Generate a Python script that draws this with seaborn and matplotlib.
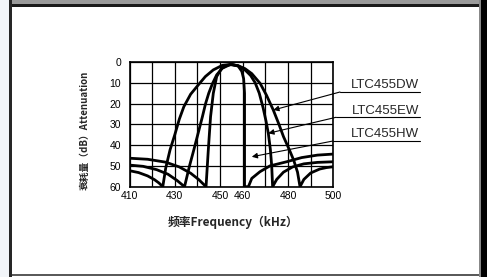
import pandas as pd
import matplotlib
matplotlib.use("Agg")
import matplotlib.pyplot as plt
import seaborn as sns
from matplotlib.patches import Rectangle
from matplotlib.lines import Line2D

# curve data (kHz, dB)
freq_dw = [410, 414, 418, 421, 423, 424.7, 426, 427.9, 430, 432, 434, 437, 440.4, 443.5, 447, 451, 454.5,
           458, 461, 464, 467.7, 470.5, 473.5, 476, 478, 480.5, 482.5, 484.2, 485.3,
           487, 490, 494, 497, 500]
att_dw = [52.3, 53.2, 54.8, 56.6, 58.2, 60, 51, 42.3, 35, 27.5, 21.5, 15.5, 11, 7, 3.8, 1.6, 1.2,
          1.8, 3.2, 5.6, 10.3, 16, 23.1, 30, 35.9, 42, 47.2, 53, 60,
          56.5, 53.4, 51.5, 50.8, 50.4]

freq_ew = [410, 416, 422, 427, 431, 434.3, 436.5, 438.4, 440.3, 442.2, 443.6, 445, 446.6, 448.5, 451, 454.5,
           458, 461, 463.5, 465.5, 467.3, 469, 470.3, 471.3, 472.2, 472.8, 473.2,
           475, 478, 482, 487, 493, 500]
att_ew = [49.6, 50.2, 51.8, 54, 57, 60, 50, 42.3, 34.3, 26.3, 20, 15, 10.5, 6.2, 3, 1.2,
          1.8, 3.8, 6.5, 10, 15, 22, 28.5, 34.3, 42, 50, 60,
          56.5, 53, 50.5, 49, 48.3, 48]

freq_hw = [410, 418, 426, 432, 437, 440.5, 443.8, 444.8, 445.8, 447, 448.5, 450.7, 453, 455.5,
           458, 459.6, 460.4, 460.8, 460.8, 462.5,
           464, 467.6, 472, 479.4, 486, 493, 500]
att_hw = [46.3, 46.8, 48.2, 50.5, 53.5, 56.5, 60, 42.3, 26.3, 15.1, 7, 3, 1.6, 1.2,
          2, 4.5, 8, 15, 60, 60,
          56, 52.8, 50, 48, 46, 44.8, 44.3]

series_names = ["LTC455DW", "LTC455EW", "LTC455HW"]
arrow_freq = [473.5, 471.3, 464.0]
arrow_att = [23.1, 34.3, 45.6]

x_grid = list(range(410, 501, 10))
x_labels = ["410", "", "430", "", "450", "460", "", "480", "", "500"]
y_grid = [0, 10, 20, 30, 40, 50, 60]

sns.set_style("white")
plt.rcParams['font.family'] = ['Liberation Sans', 'Noto Sans CJK SC', 'DejaVu Sans']

W, H = 487, 277
fig = plt.figure(figsize=(W / 100, H / 100), dpi=100)
fig.patch.set_facecolor("white")


def box(x, y, w, h, c):
    # rectangle given in image pixels (y from top)
    fig.add_artist(Rectangle((x / W, 1 - (y + h) / H), w / W, h / H,
                             transform=fig.transFigure, color=c, lw=0, zorder=0))


# page frame around the chart
box(0, 0, 10, H, "#f2f5f9")
box(9, 0, 3, H, "#262626")
box(12, 0, 468, 4.5, "#9a9a9a")
box(12, 4.5, 468, 2.5, "#1a1a1a")
box(12, 274, 468, 2, "#5a5a5a")
box(479, 0, 1.5, H, "#888888")
box(480.5, 0, 6.5, H, "#000000")

ax = fig.add_axes([129.5 / W, 1 - 186.7 / H, 203.8 / W, 124.7 / H])

for f, a in [(freq_dw, att_dw), (freq_ew, att_ew), (freq_hw, att_hw)]:
    sns.lineplot(x=f, y=a, sort=False, estimator=None, color="black", lw=2.0, ax=ax)

ax.set_xlim(410, 500)
ax.set_ylim(60, 0)
ax.set_xticks(x_grid)
ax.set_xticklabels(x_labels)
ax.set_yticks(y_grid)
ax.grid(True, color="black", lw=0.9)
ax.tick_params(length=0, labelsize=7.5, colors="black")
ax.tick_params(axis="x", pad=3)
ax.tick_params(axis="y", pad=6)
for s in ax.spines.values():
    s.set_color("black")
    s.set_linewidth(1.2)
ax.set_xlabel("")
ax.set_ylabel("")

fig.text(85 / W, 1 - 130 / H, "衰耗量（dB）Attenuation", rotation=90, ha="center", va="center",
         fontsize=7, family=['Noto Sans CJK SC'], fontweight="bold")
fig.text(233 / W, 1 - 222 / H, "频率Frequency（kHz）", ha="center", va="center",
         fontsize=8.5, family=['Noto Sans CJK SC'], fontweight="bold")

# series labels with underline and pointer
text_base = [88.5, 113.5, 137]
line_y = [92, 117.3, 141]
line_x0 = [340, 336, 333]
for name, tb, ly, lx, af, aa in zip(series_names, text_base, line_y, line_x0, arrow_freq, arrow_att):
    fig.text(419 / W, 1 - tb / H, name, ha="right", va="baseline", fontsize=9.5)
    fig.add_artist(Line2D([lx / W, 420 / W], [1 - ly / H, 1 - ly / H],
                          transform=fig.transFigure, color="black", lw=0.8))
    ax.annotate("", xy=(af, aa), xycoords="data",
                xytext=(lx / W, 1 - ly / H), textcoords="figure fraction",
                arrowprops=dict(arrowstyle="-|>", lw=0.8, color="black",
                                mutation_scale=8, shrinkA=0, shrinkB=0))

fig.savefig("out.png", dpi=100)
